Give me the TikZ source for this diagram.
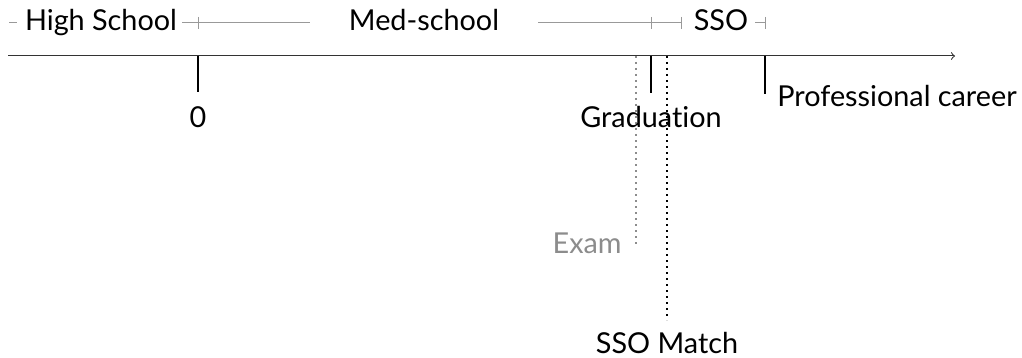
\documentclass[tikz,border=0pt]{standalone}
\usepackage{fontspec}
\setmainfont[Ligatures=NoCommon]{Lato}
\usetikzlibrary{calc}
\definecolor{spangray}{gray}{0.6}
\definecolor{examgray}{gray}{0.55}
\tikzset{
  axis/.style={draw=black!80, line width=0.5pt},
  tickline/.style={draw=black, line width=1pt},
  spanline/.style={draw=spangray, line width=0.5pt},
  txt/.style={inner sep=0pt, anchor=base, font=\fontsize{14.4}{17}\selectfont},
}
\def\spanTick#1{
\draw[spanline] ($(#1)+(0,-6)$) -- ($(#1)+(0,6)$);
}

\begin{document}
\begin{tikzpicture}[x=0.5pt,y=-0.5pt]
  \useasboundingbox (0,0) rectangle (1022,358);
  % time axis
  \coordinate (A0) at (8,56);
  \coordinate (A1) at (955,56);
  \draw[axis,->] (A0) -- (A1);
  % events on the axis
  \coordinate (Zero) at (198,56);
  \coordinate (ZeroEnd) at (198,92);
  \coordinate (Grad) at (651,56);
  \coordinate (GradEnd) at (651,93);
  \coordinate (Prof) at (765,56);
  \coordinate (ProfEnd) at (765,94);
  \coordinate (Exam) at (636,56);
  \coordinate (ExamEnd) at (636,247);
  \coordinate (Match) at (667,56);
  \coordinate (MatchEnd) at (667,320);
  \draw[tickline] (Zero) -- (ZeroEnd);
  \draw[tickline] (Grad) -- (GradEnd);
  \draw[tickline] (Prof) -- (ProfEnd);
  \draw[draw=examgray, line width=1pt, dotted] (Exam) -- (ExamEnd);
  \draw[draw=black, line width=1pt, dotted] (Match) -- (MatchEnd);
  \node[txt] (zerotxt) at (198,127) {0};
  \node[txt] (gradtxt) at (651,127) {Graduation};
  \node[txt, anchor=base west] (proftxt) at (777,106) {Professional career};
  \node[txt, anchor=base east, text=examgray] (examtxt) at (622,253) {Exam};
  \node[txt] (matchtxt) at (667,353) {SSO Match};
  % periods on top
  \node[txt] (hs) at (101,31) {High School};
  \node[txt] (med) at (424,31) {Med-school};
  \node[txt] (sso) at (721,31) {SSO};
  \coordinate (HsA) at (9,23);
  \coordinate (HsB) at (17,23);
  \coordinate (HsEnd) at (198,23);
  \coordinate (MedA) at (182,23);
  \coordinate (MedB) at (310,23);
  \coordinate (MedC) at (538,23);
  \coordinate (SsoStart) at (651,23);
  \coordinate (MedEnd) at (681,23);
  \coordinate (SsoA) at (755,23);
  \coordinate (SsoEnd) at (765,23);
  \draw[spanline] (HsA) -- (HsB);
  \draw[spanline] (MedA) -- (MedB);
  \draw[spanline] (MedC) -- (MedEnd);
  \draw[spanline] (SsoA) -- (SsoEnd);
  \spanTick{HsEnd}
  \spanTick{SsoStart}
  \spanTick{MedEnd}
  \spanTick{SsoEnd}
\end{tikzpicture}
\end{document}
